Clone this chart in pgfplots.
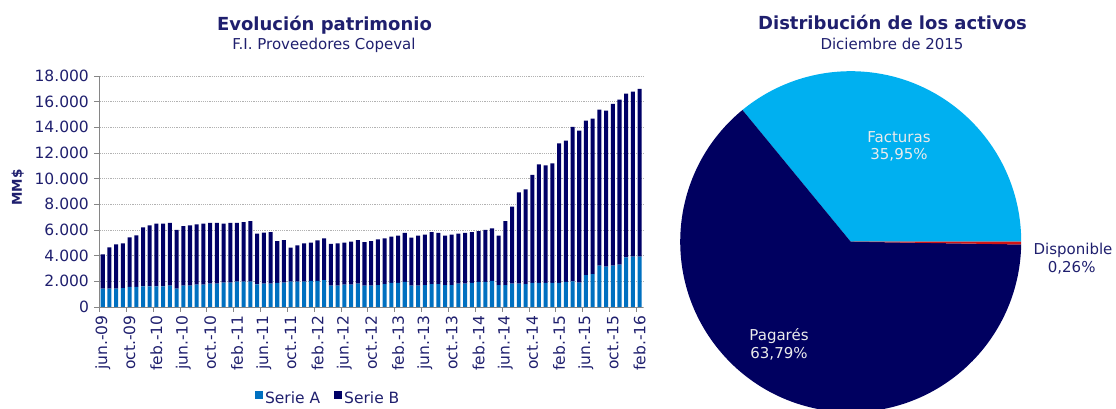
\documentclass[border=0pt]{standalone}
\usepackage{fontspec}
\setmainfont{DejaVu Sans}
\usepackage{pgfplots}
\usepackage{pgfplotstable}
\pgfplotsset{compat=1.18}
\definecolor{txt}{RGB}{31,31,110}
\definecolor{serA}{RGB}{0,112,192}
\definecolor{serB}{RGB}{0,0,102}
\definecolor{fact}{RGB}{0,176,240}
\definecolor{pag}{RGB}{0,0,96}
\definecolor{disp}{RGB}{210,20,20}
\definecolor{axgray}{RGB}{134,134,134}

\pgfplotstableread{
x A B
1 1430 2670
2 1430 3220
3 1430 3450
4 1480 3480
5 1560 3870
6 1560 4020
7 1610 4600
8 1610 4750
9 1610 4880
10 1610 4880
11 1660 4890
12 1430 4570
13 1660 4650
14 1660 4700
15 1740 4700
16 1740 4750
17 1820 4730
18 1820 4730
19 1900 4590
20 1900 4650
21 1970 4580
22 1970 4650
23 1970 4730
24 1770 3940
25 1820 3970
26 1820 4020
27 1870 3270
28 1900 3320
29 1970 2650
30 1970 2840
31 1970 2990
32 2030 2980
33 2030 3160
34 2100 3250
35 1660 3250
36 1660 3300
37 1740 3270
38 1740 3350
39 1820 3400
40 1660 3400
41 1660 3480
42 1710 3560
43 1790 3560
44 1870 3610
45 1870 3690
46 1950 3820
47 1660 3740
48 1660 3900
49 1710 3930
50 1790 4050
51 1790 3980
52 1710 3850
53 1710 3930
54 1820 3890
55 1820 3950
56 1870 3970
57 1950 3970
58 1950 4050
59 2030 4100
60 1710 3850
61 1710 4990
62 1820 6000
63 1820 7120
64 1790 7380
65 1870 8420
66 1870 9250
67 1870 9170
68 1870 9320
69 1870 10880
70 1950 11010
71 2000 12030
72 1900 11840
73 2490 12030
74 2570 12110
75 3220 12160
76 3140 12160
77 3220 12600
78 3300 12860
79 3870 12750
80 3920 12860
81 3920 13070
}\patrimonio

\pgfplotstableread{
label pct
Facturas 35.95
Pagares 63.79
Disponible 0.26
}\activos

\begin{document}
\begin{tikzpicture}[x=1pt,y=1pt]
\useasboundingbox (0,0) rectangle (1116,409);

% Titles
\node[anchor=base, font=\bfseries\fontsize{18}{18}\selectfont, text=txt] at (324.5,378.3) {Evolución patrimonio};
\node[anchor=base, font=\fontsize{15}{15}\selectfont, text=txt] at (324,359.7) {F.I. Proveedores Copeval};
\node[anchor=base, font=\bfseries\fontsize{18}{18}\selectfont, text=txt] at (892.5,379) {Distribución de los activos};
\node[anchor=base, font=\fontsize{15}{15}\selectfont, text=txt] at (892,359.7) {Diciembre de 2015};
\node[rotate=90, font=\bfseries\fontsize{13.5}{13.5}\selectfont, text=txt] at (17.7,221.5) {MM\$};

\begin{axis}[
  at={(99.4pt,102pt)}, anchor=south west,
  scale only axis, width=543.6pt, height=231pt,
  ybar stacked, bar width=0.6,
  xmin=0.5, xmax=81.5, ymin=0, ymax=18000,
  axis x line*=bottom, axis y line*=left,
  axis line style={axgray, line width=0.8pt},
  ytick={0,2000,...,18000},
  xtick={1,5,...,81},
  xticklabels={jun.-09,oct.-09,feb.-10,jun.-10,oct.-10,feb.-11,jun.-11,oct.-11,feb.-12,jun.-12,oct.-12,feb.-13,jun.-13,oct.-13,feb.-14,jun.-14,oct.-14,feb.-15,jun.-15,oct.-15,feb.-16},
  minor xtick={0.5,4.5,...,80.5},
  tick align=outside,
  major x tick style={draw=none},
  minor x tick style={axgray, line width=0.8pt},
  minor tick length=5pt,
  major y tick style={axgray, line width=0.8pt},
  major tick length=5pt,
  ymajorgrids,
  grid style={gray!60, line width=0.6pt, dash pattern=on 1.2pt off 1pt},
  /pgf/number format/assume math mode=true,
  scaled y ticks=false,
  ticklabel style={text=txt, font=\fontsize{15.5}{15.5}\selectfont},
  yticklabel style={xshift=-2pt, /pgf/number format/.cd, 1000 sep={.}, assume math mode=true},
  xticklabel style={rotate=90, anchor=east},
  legend style={at={(0.421,-0.395)}, anchor=center, draw=none, fill=none,
    font=\fontsize{15.5}{15.5}\selectfont, text=txt, legend columns=2,
    /tikz/every even column/.append style={column sep=12pt}},
  legend cell align=left,
]
\addplot[fill=serA, draw=none, legend image code/.code={\fill[serA] (0pt,-0.5pt) rectangle (8pt,7.5pt);}] table[x=x, y=A] {\patrimonio};
\addplot[fill=serB, draw=none, legend image code/.code={\fill[serB] (0pt,-0.5pt) rectangle (8pt,7.5pt);}] table[x=x, y=B] {\patrimonio};
\legend{Serie A, Serie B}
\end{axis}

% Pie
\pgfplotstablegetelem{0}{pct}\of{\activos}\let\pF\pgfplotsretval
\pgfplotstablegetelem{1}{pct}\of{\activos}\let\pP\pgfplotsretval
\pgfplotstablegetelem{2}{pct}\of{\activos}\let\pD\pgfplotsretval
\pgfmathsetmacro{\aF}{3.6*\pF}
\pgfmathsetmacro{\aP}{\aF+3.6*\pP}
\begin{axis}[
  at={(850.7pt,167.3pt)}, anchor=center,
  scale only axis, width=341pt, height=341pt,
  hide axis, xmin=-1, xmax=1, ymin=-1, ymax=1,
  clip=false,
]
\fill[fact] (axis cs:0,0) -- (axis cs:1,0) arc[start angle=0, end angle=\aF, radius=1] -- cycle;
\fill[pag] (axis cs:0,0) -- (axis cs:{cos(\aF)},{sin(\aF)}) arc[start angle=\aF, end angle=\aP, radius=1] -- cycle;
\fill[disp] (axis cs:0,0) -- (axis cs:{cos(\aP)},{sin(\aP)}) arc[start angle=\aP, end angle=360, radius=1] -- cycle;
\end{axis}

\node[anchor=base, font=\fontsize{15}{15}\selectfont, text=white!92!black] at (899,266.3) {Facturas};
\node[anchor=base, font=\fontsize{15}{15}\selectfont, text=white!92!black] at (899,249) {35,95\%};
\node[anchor=base, font=\fontsize{15}{15}\selectfont, text=white!92!black] at (779,68.3) {Pagarés};
\node[anchor=base, font=\fontsize{15}{15}\selectfont, text=white!92!black] at (779,50.3) {63,79\%};
\node[anchor=base, font=\fontsize{15}{15}\selectfont, text=txt] at (1073,154) {Disponible};
\node[anchor=base, font=\fontsize{15}{15}\selectfont, text=txt] at (1071.7,136.3) {0,26\%};
\end{tikzpicture}
\end{document}
